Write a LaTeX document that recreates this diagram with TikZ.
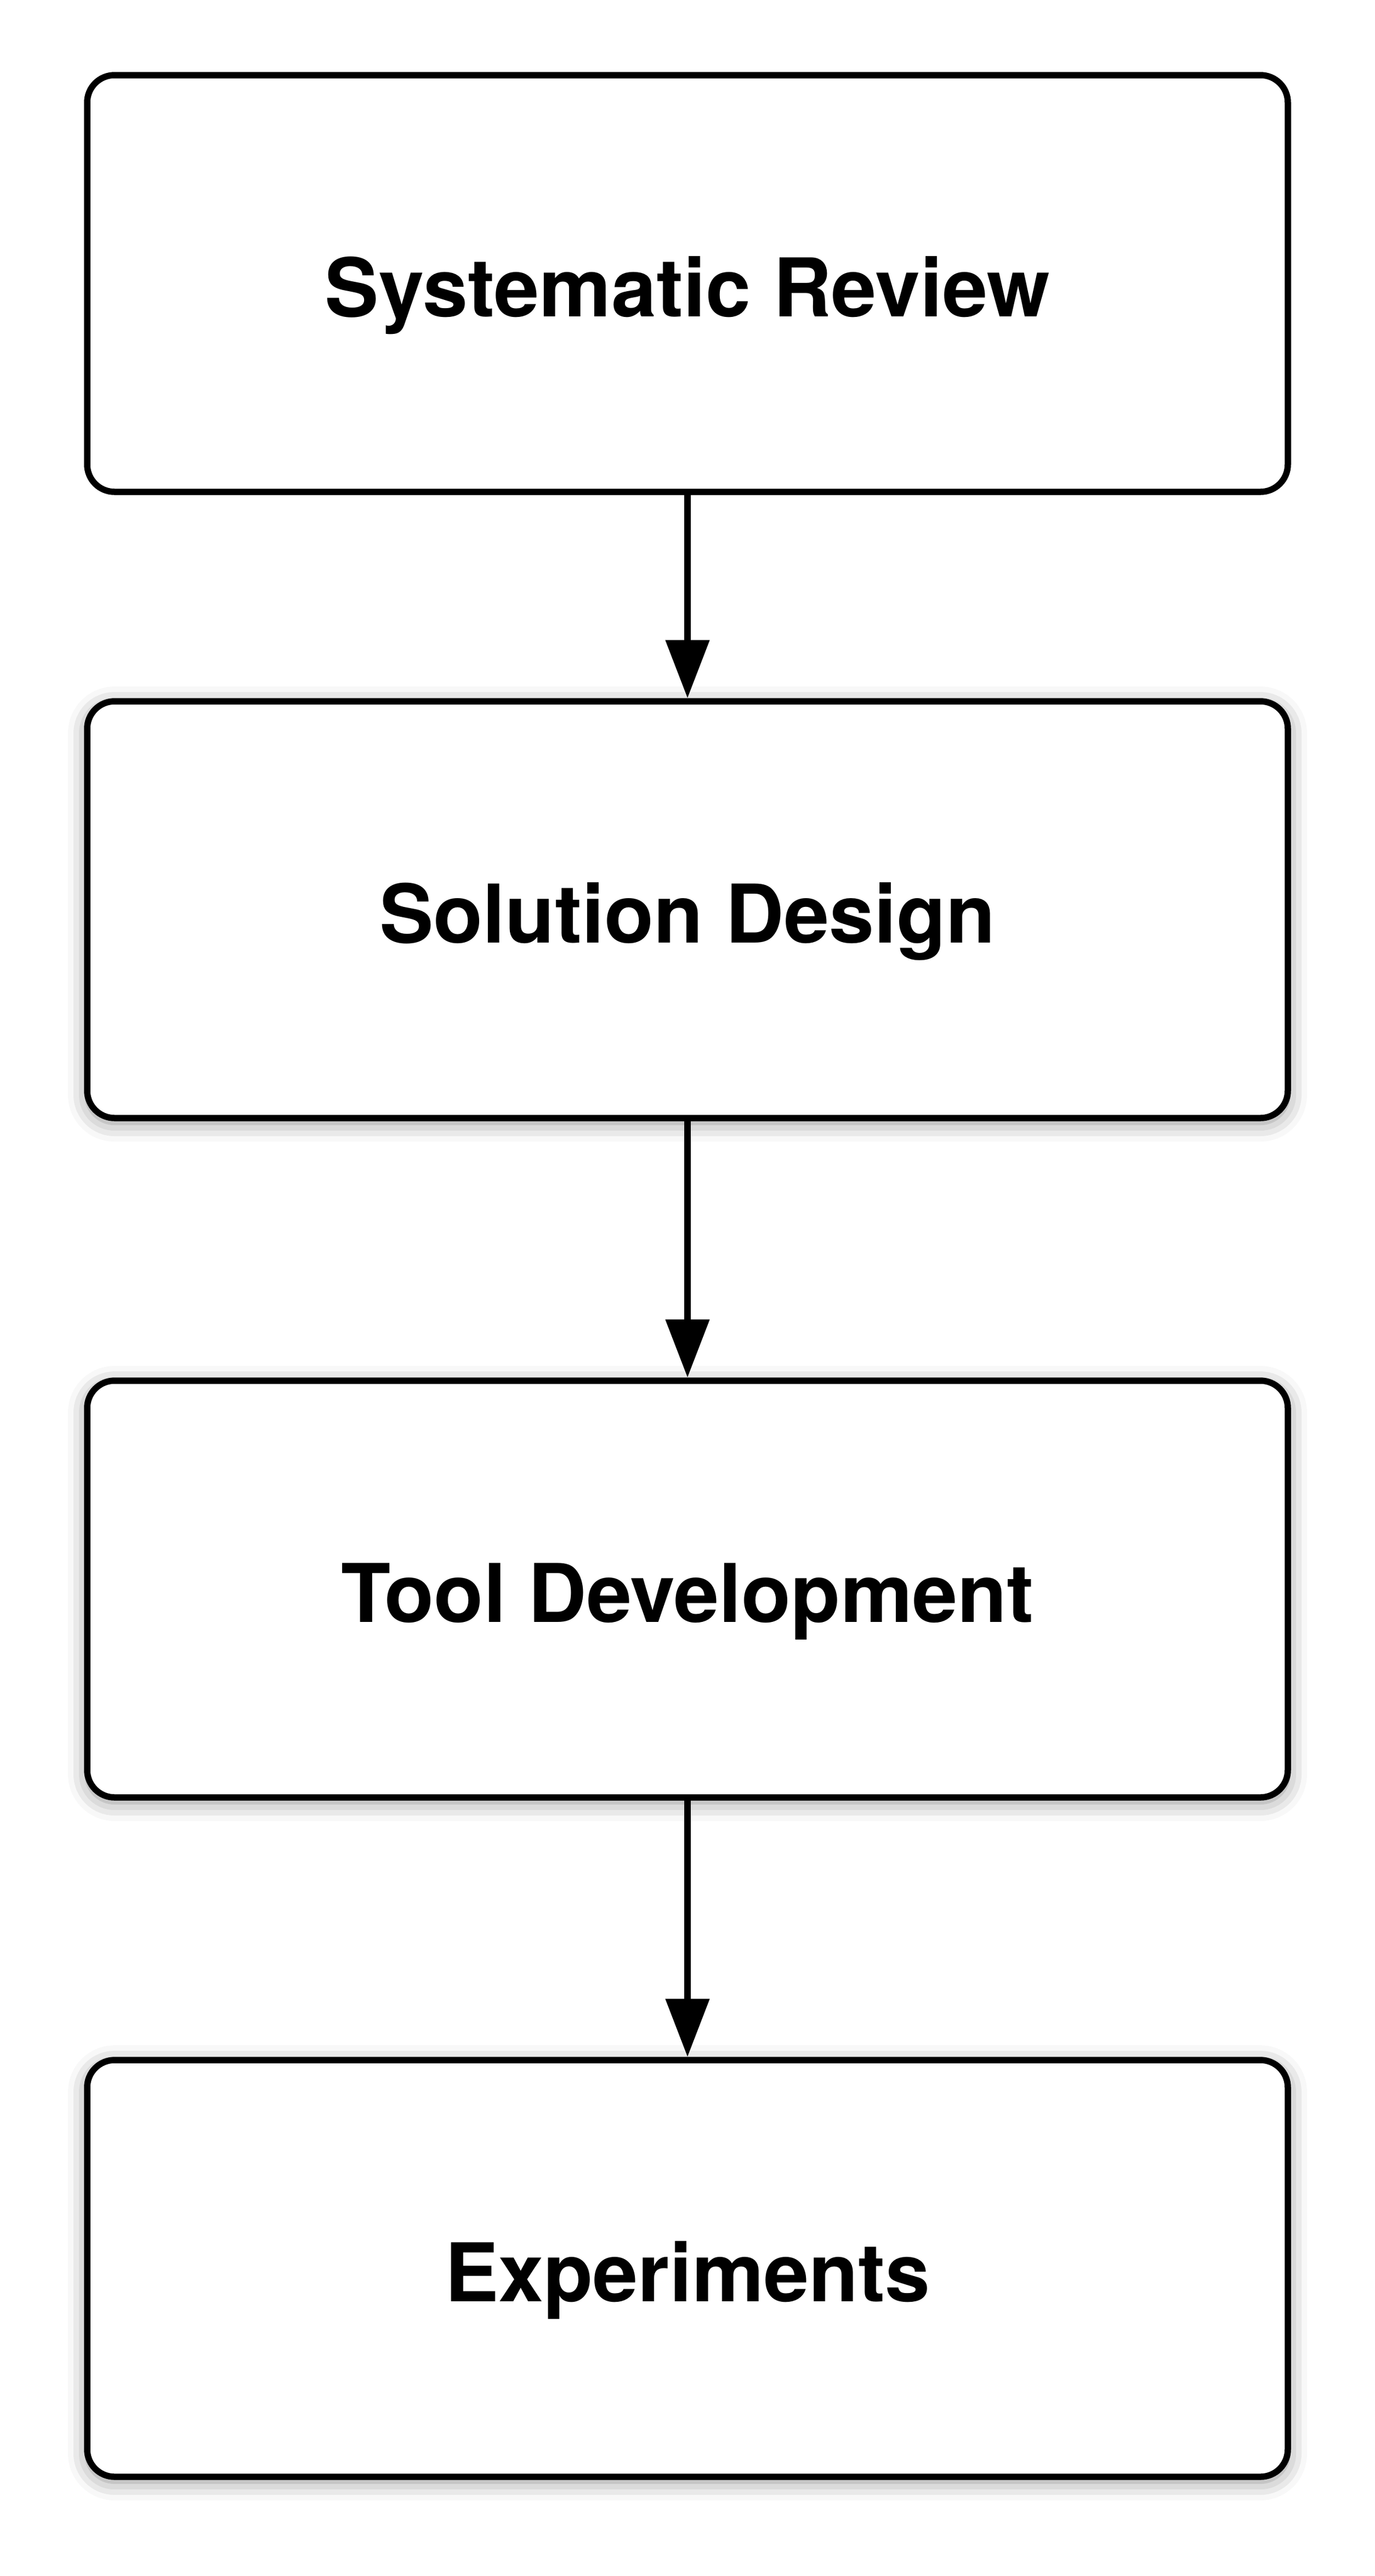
\documentclass[tikz,border=0pt]{standalone}
\usepackage{fontspec}
\setmainfont{TeX Gyre Heros}
\usepackage{tikz}
\usetikzlibrary{shapes,arrows.meta,shadows.blur}
\usetikzlibrary{positioning}
\tikzset{
  stage/.style={rectangle, rounded corners=0.5cm, draw, fill=white,
    minimum width=21.9cm, minimum height=7.6cm, inner sep=0pt,
    text height=1.2cm, text depth=0pt,
    font=\fontsize{42}{50}\selectfont\bfseries},
  shadowed/.style={blur shadow={shadow xshift=0cm, shadow yshift=-0.08cm,
    shadow blur radius=0.35cm, shadow opacity=45}}
}

\begin{document}
\begin{tikzpicture}[> = {Triangle[length=1.06cm, width=0.78cm]}, node distance=12.39cm, on grid, line width=0.115cm]
        \useasboundingbox (0,0) rectangle (25.08,-46.98);
        \node[stage]          (rev) at (12.54,-5.17)       {Systematic Review};
        \node[stage,shadowed] (des) [below=11.42cm of rev] {Solution Design};
        \node[stage,shadowed] (dev) [below=of des]         {Tool Development};
        \node[stage,shadowed] (exp) [below=of dev]         {Experiments};

        \path[->] (rev) edge (des)
                  (des) edge (dev)
                  (dev) edge (exp);
      \end{tikzpicture}
\end{document}
